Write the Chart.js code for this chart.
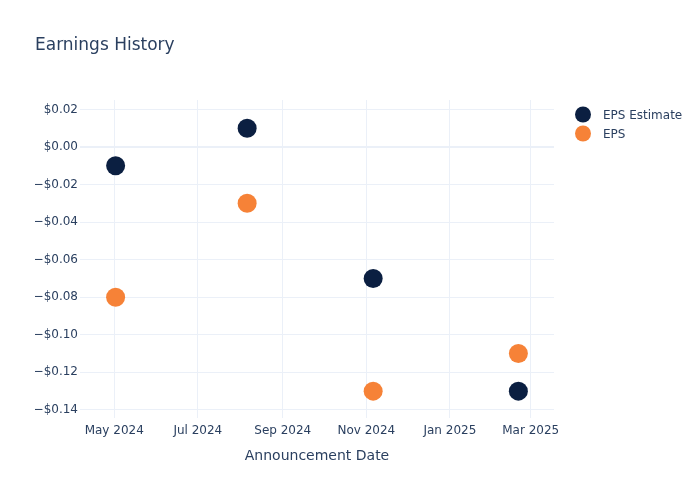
<!DOCTYPE html>
<html>
<head>
<meta charset="utf-8">
<script src="https://cdn.jsdelivr.net/npm/chart.js@4.4.1/dist/chart.umd.min.js"></script>
<style>
  html, body { margin: 0; padding: 0; background: #fff; }
  #wrap { width: 700px; height: 500px; }
</style>
</head>
<body>
<div id="wrap"><canvas id="chart" width="700" height="500"></canvas></div>
<script>
// announcement dates and EPS values
const dates = ['2024-05-02', '2024-08-06', '2024-11-06', '2025-02-20'];
const epsEstimate = [-0.01, 0.01, -0.07, -0.13];
const eps = [-0.08, -0.03, -0.13, -0.11];

const xTickDates = ['2024-05-01', '2024-07-01', '2024-09-01', '2024-11-01', '2025-01-01', '2025-03-01'];
const yTicks = [0.02, 0, -0.02, -0.04, -0.06, -0.08, -0.10, -0.12, -0.14];
const monthNames = ['Jan', 'Feb', 'Mar', 'Apr', 'May', 'Jun', 'Jul', 'Aug', 'Sep', 'Oct', 'Nov', 'Dec'];

const textColor = '#2a3f5f';
const gridColor = '#ebf0f8';
const fontFamily = '"DejaVu Sans", Verdana, sans-serif';

function ts(d) {
  const p = d.split('-');
  return Date.UTC(+p[0], +p[1] - 1, +p[2]);
}

function points(values) {
  return values.map((v, i) => ({ x: ts(dates[i]), y: v }));
}

function money(v) {
  const s = '$' + Math.abs(v).toFixed(2);
  return v < -1e-9 ? '\u2212' + s : s;
}

// simple legend on the right, drawn from the datasets
const sideLegend = {
  id: 'sideLegend',
  afterDraw(chart) {
    const ctx = chart.ctx;
    const x0 = chart.chartArea.right + 29;
    let y = chart.chartArea.top + 14.5;
    ctx.save();
    ctx.font = '12px ' + fontFamily;
    ctx.textBaseline = 'middle';
    chart.data.datasets.forEach(ds => {
      ctx.beginPath();
      ctx.fillStyle = ds.backgroundColor;
      ctx.arc(x0, y, 8, 0, Math.PI * 2);
      ctx.fill();
      ctx.fillStyle = textColor;
      ctx.fillText(ds.label, x0 + 20, y + 1);
      y += 19;
    });
    ctx.restore();
  }
};

new Chart(document.getElementById('chart'), {
  type: 'scatter',
  data: {
    datasets: [
      {
        label: 'EPS Estimate',
        data: points(epsEstimate),
        backgroundColor: '#0b1f41',
        pointBorderWidth: 0,
        pointRadius: 9.5,
        pointHoverRadius: 9.5
      },
      {
        label: 'EPS',
        data: points(eps),
        backgroundColor: '#f68237',
        pointBorderWidth: 0,
        pointRadius: 9.5,
        pointHoverRadius: 9.5
      }
    ]
  },
  options: {
    responsive: false,
    animation: false,
    layout: { padding: { left: 35, right: 146, top: 0, bottom: 0 } },
    plugins: {
      legend: { display: false },
      tooltip: { enabled: false },
      title: {
        display: true,
        text: 'Earnings History',
        align: 'start',
        color: textColor,
        font: { family: fontFamily, size: 17, weight: 'normal' },
        padding: { top: 35, bottom: 44.6 }
      }
    },
    scales: {
      x: {
        type: 'linear',
        min: ts('2024-04-06'),
        max: ts('2025-03-18'),
        afterBuildTicks(scale) {
          scale.ticks = xTickDates.map(d => ({ value: ts(d) }));
        },
        afterFit(scale) { scale.height = 82; },
        grid: { color: gridColor, drawTicks: false },
        border: { display: false },
        ticks: {
          autoSkip: false,
          maxRotation: 0,
          padding: 6,
          color: textColor,
          font: { family: fontFamily, size: 12 },
          callback(v) {
            const d = new Date(v);
            return monthNames[d.getUTCMonth()] + ' ' + d.getUTCFullYear();
          }
        },
        title: {
          display: true,
          text: 'Announcement Date',
          color: textColor,
          font: { family: fontFamily, size: 14 },
          padding: { top: 0, bottom: 35 }
        }
      },
      y: {
        min: -0.1443,
        max: 0.025,
        afterBuildTicks(scale) {
          scale.ticks = yTicks.map(v => ({ value: v }));
        },
        afterFit(scale) { scale.width = 45; },
        grid: {
          color: gridColor,
          drawTicks: false,
          lineWidth: c => (c.tick && Math.abs(c.tick.value) < 1e-9 ? 2 : 1)
        },
        border: { display: false },
        ticks: {
          padding: 2,
          color: textColor,
          font: { family: fontFamily, size: 12 },
          callback: v => money(v)
        }
      }
    }
  },
  plugins: [sideLegend]
});
</script>
</body>
</html>
